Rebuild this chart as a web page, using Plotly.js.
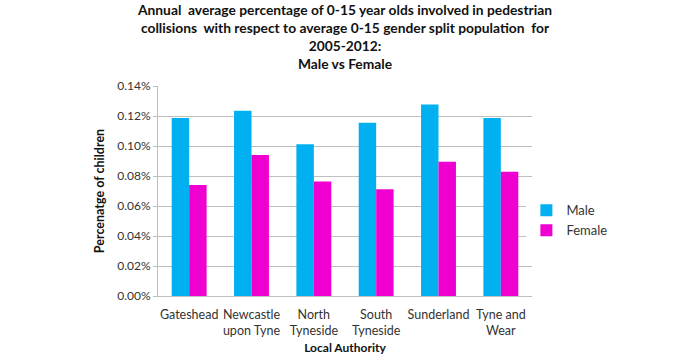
<!DOCTYPE html>
<html>
<head>
<meta charset="utf-8">
<script src="https://cdn.plot.ly/plotly-3.0.1.min.js"></script>
<style>html,body{margin:0;padding:0;background:#fff;}#chart{width:690px;height:355px;}</style>
</head>
<body>
<div id="chart"></div>
<script>
var categories = ["Gateshead", "Newcastle<br>upon Tyne", "North<br>Tyneside", "South<br>Tyneside", "Sunderland", "Tyne and<br>Wear"];
var maleValues = [0.1187, 0.1235, 0.1012, 0.1155, 0.1277, 0.1187];
var femaleValues = [0.0740, 0.0940, 0.0764, 0.0712, 0.0895, 0.0828];
var tickValues = [0, 0.02, 0.04, 0.06, 0.08, 0.10, 0.12, 0.14];
var tickLabels = ["0.00%", "0.02%", "0.04%", "0.06%", "0.08%", "0.10%", "0.12%", "0.14%"];

var font = "Lato, 'Open Sans', sans-serif";
var data = [
  {type: "bar", name: "Male", x: categories, y: maleValues, marker: {color: "#00B0F0"}},
  {type: "bar", name: "Female", x: categories, y: femaleValues, marker: {color: "#F000D0"}}
];
var layout = {
  width: 690, height: 355,
  margin: {l: 158, r: 158, t: 86, b: 59, pad: 0},
  paper_bgcolor: "#ffffff", plot_bgcolor: "#ffffff",
  font: {family: font, size: 12, color: "#333"},
  title: {
    text: "<b>Annual  average percentage of 0-15 year olds involved in pedestrian<br>collisions  with respect to average 0-15 gender split population  for<br>2005-2012:<br>Male vs Female</b>",
    font: {family: font, size: 13.8, color: "#111"},
    x: 0.5, xanchor: "center", y: 0.958, yanchor: "top", xref: "paper"
  },
  barmode: "group", bargap: 0.44, bargroupgap: 0,
  xaxis: {
    title: {text: "<b>Local Authority</b>", font: {family: font, size: 12, color: "#111"}, standoff: 8},
    showline: true, linecolor: "#BFBFBF", linewidth: 1,
    ticks: "", ticklabelstandoff: 7, tickfont: {family: font, size: 12.5, color: "#333"},
    showgrid: false
  },
  yaxis: {
    title: {text: "<b>Percenatge of children</b>", font: {family: font, size: 12.5, color: "#111"}, standoff: 9},
    range: [0, 0.14], tickvals: tickValues, ticktext: tickLabels,
    showline: true, linecolor: "#BFBFBF", linewidth: 1,
    ticks: "outside", ticklen: 4, tickcolor: "#BFBFBF",
    gridcolor: "#BFBFBF", gridwidth: 1, zeroline: false,
    tickfont: {family: font, size: 12, color: "#333"}
  },
  legend: {
    x: 0.985, xanchor: "left", y: 0.36, yanchor: "middle",
    font: {family: font, size: 13, color: "#333"},
    tracegroupgap: 10, itemwidth: 30
  },
  showlegend: true
};
Plotly.newPlot("chart", data, layout, {displayModeBar: false, staticPlot: true});
</script>
</body>
</html>
